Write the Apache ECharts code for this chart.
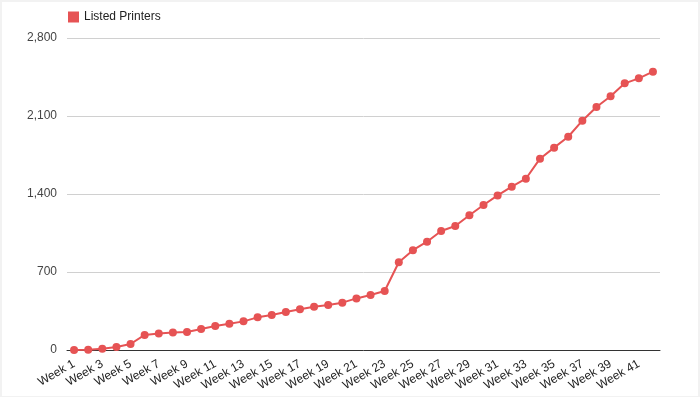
<!DOCTYPE html>
<html>
<head>
<meta charset="utf-8">
<script src="https://cdn.jsdelivr.net/npm/echarts@6/dist/echarts.min.js"></script>
<style>
html,body{margin:0;padding:0;background:#f2f2f2;}
#main{position:absolute;left:2px;top:2px;width:696px;height:394px;background:#fff;}
</style>
</head>
<body>
<div id="main"></div>
<script>
var weeks = [];
for (var i = 1; i <= 42; i++) {
    weeks.push("Week " + i);
}
var printers = [0, 3, 12, 27, 54, 135, 147, 156, 162, 189,
    215, 236, 257, 293, 314, 341, 365, 389, 404, 425,
    463, 494, 530, 788, 896, 972, 1068, 1113, 1209, 1301,
    1387, 1466, 1537, 1717, 1816, 1914, 2058, 2181, 2277, 2393,
    2438, 2498];
var yTicks = [0, 700, 1400, 2100, 2800];

var option = {
    animation: false,
    textStyle: {
        fontFamily: 'Liberation Sans, Arial, sans-serif'
    },
    legend: {
        left: 61,
        top: 4,
        icon: 'rect',
        itemWidth: 11,
        itemHeight: 11,
        itemGap: 5,
        textStyle: {
            fontSize: 12,
            color: '#222'
        },
        data: ['Listed Printers']
    },
    grid: {
        left: 65,
        right: 38,
        top: 36,
        bottom: 46,
        containLabel: false
    },
    xAxis: {
        type: 'category',
        boundaryGap: true,
        data: weeks,
        axisLine: {
            lineStyle: {
                color: '#333',
                width: 1
            }
        },
        axisTick: {
            show: false
        },
        axisLabel: {
            interval: 1,
            rotate: 30,
            fontSize: 12,
            color: '#222',
            margin: 13
        }
    },
    yAxis: {
        type: 'value',
        min: yTicks[0],
        max: yTicks[yTicks.length - 1],
        interval: 700,
        axisLine: {
            show: false
        },
        axisTick: {
            show: false
        },
        axisLabel: {
            fontSize: 12,
            color: '#444',
            margin: 10,
            formatter: function (v) {
                return v.toLocaleString('en-US');
            }
        },
        splitLine: {
            lineStyle: {
                color: '#d0d0d0'
            }
        }
    },
    series: [
        {
            name: 'Listed Printers',
            type: 'line',
            data: printers,
            symbol: 'circle',
            symbolSize: 8,
            itemStyle: {
                color: '#e65354'
            },
            lineStyle: {
                color: '#e65354',
                width: 2
            }
        }
    ]
};

var chart = echarts.init(document.getElementById('main'));
chart.setOption(option);
</script>
</body>
</html>
